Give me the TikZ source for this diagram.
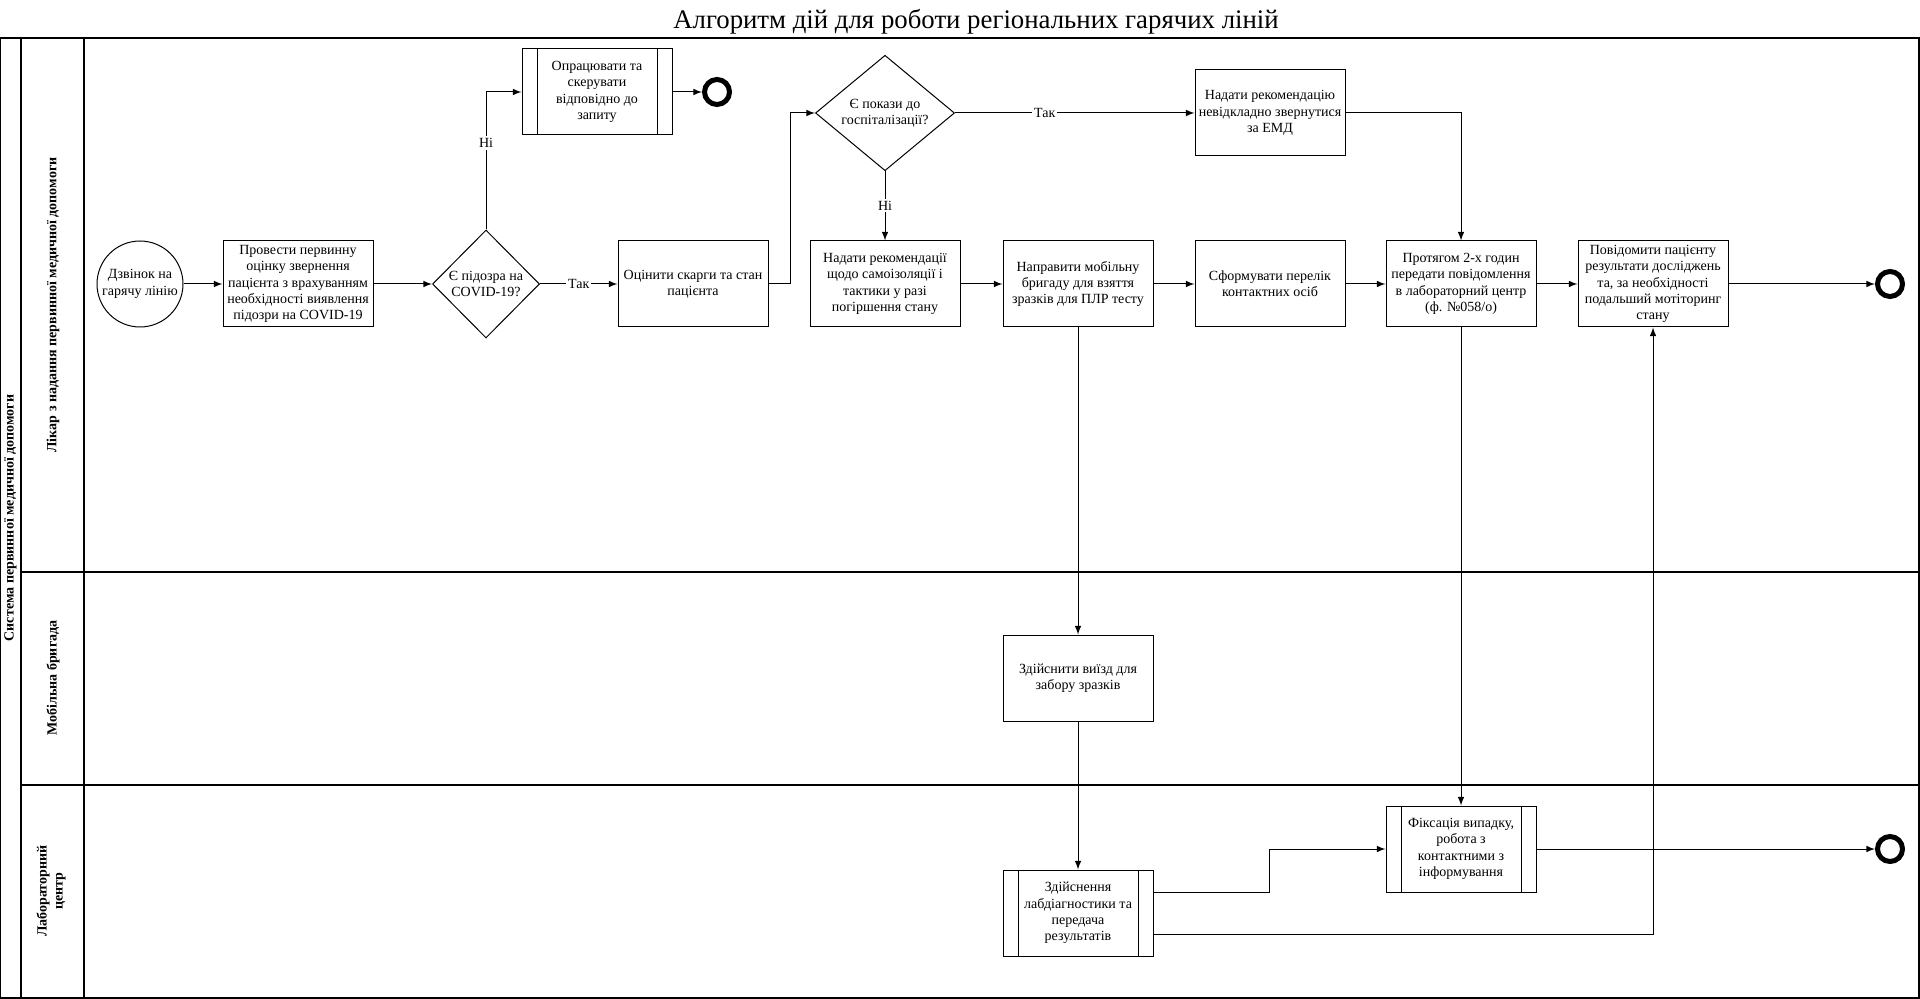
\documentclass[tikz,border=0pt]{standalone}
\usepackage{fontspec}
\setmainfont{Liberation Serif}
\usetikzlibrary{shapes.geometric}

\begin{document}
\begin{tikzpicture}[x=0.5pt,y=-0.5pt,line width=0.5pt,
    every node/.style={font=\fontsize{7}{8.2}\selectfont},
    box/.style={draw,minimum width=75pt,minimum height=43pt,align=center,inner sep=1pt},
    subbox/.style={box,path picture={
        \draw ([xshift=7.5pt]path picture bounding box.north west) -- ([xshift=7.5pt]path picture bounding box.south west);
        \draw ([xshift=-7.5pt]path picture bounding box.north east) -- ([xshift=-7.5pt]path picture bounding box.south east);}},
    choice/.style={draw,diamond,align=center,inner sep=0pt},
    finish/.style={circle,draw,line width=2.5pt,minimum size=12.5pt,inner sep=0pt},
    answer/.style={fill=white,inner sep=1pt},
    lanetext/.style={rotate=90,align=center,font=\fontsize{7}{8}\selectfont\bfseries}]
    \useasboundingbox (0,0) rectangle (1920,999);

    \node (title) at (976,22) [font=\fontsize{13.4}{15}\selectfont] {Алгоритм дій для роботи регіональних гарячих ліній};

    % lanes
    \draw[line width=0.7pt] (0,38) rectangle (1919,998);
    \draw[line width=0.7pt] (21,38) -- (21,998);
    \draw[line width=0.7pt] (84,38) -- (84,998);
    \draw[line width=0.7pt] (21,572) -- (1919,572);
    \draw[line width=0.7pt] (21,785) -- (1919,785);
    \node (pool) at (10.5,518) [lanetext] {Система первинної медичної допомоги};
    \node (lane1) at (53,305) [lanetext] {Лікар з надання первинної медичної допомоги};
    \node (lane2) at (53,678) [lanetext] {Мобільна бригада};
    \node (lane3) at (51,891) [lanetext] {Лабораторний\\центр};

    % first lane
    \node (start) at (140,284) [circle,draw,minimum size=43pt,inner sep=0pt,align=center] {Дзвінок на\\гарячу лінію};
    \node (a1) at (298,284) [box] {Провести первинну\\оцінку звернення\\пацієнта з врахуванням\\необхідності виявлення\\підозри на COVID-19};
    \node (q1) at (486,284) [choice,minimum width=53.5pt,minimum height=54pt] {Є підозра на\\COVID-19?};
    \node (a0) at (597,92) [subbox] {Опрацювати та\\скерувати\\відповідно до\\запиту};
    \node (end1) at (717,92) [finish] {};
    \node (a2) at (693,284) [box] {Оцінити скарги та стан\\пацієнта};
    \node (q2) at (885,113) [choice,minimum width=69.5pt,minimum height=53.5pt] {Є покази до\\госпіталізації?};
    \node (a3) at (1270,113) [box] {Надати рекомендацію\\невідкладно звернутися\\за ЕМД};
    \node (a4) at (885,284) [box] {Надати рекомендації\\щодо самоізоляції і\\тактики у разі\\погіршення стану};
    \node (a5) at (1078,284) [box] {Направити мобільну\\бригаду для взяття\\зразків для ПЛР тесту};
    \node (a6) at (1270,284) [box] {Сформувати перелік\\контактних осіб};
    \node (a7) at (1461,284) [box] {Протягом 2-х годин\\передати повідомлення\\в лабораторний центр\\(ф. №058/о)};
    \node (a8) at (1653,284) [box] {Повідомити пацієнту\\результати досліджень\\та, за необхідності\\подальший мотіторинг\\стану};
    \node (end2) at (1890,284) [finish] {};

    % second and third lane
    \node (b1) at (1078,678) [box] {Здійснити виїзд для\\забору зразків};
    \node (c1) at (1078,913) [subbox] {Здійснення\\лабдіагностики та\\передача\\результатів};
    \node (c2) at (1461,849) [subbox] {Фіксація випадку,\\робота з\\контактними з\\інформування};
    \node (end3) at (1890,849) [finish] {};

    \coordinate (k1) at (486,92);
    \coordinate (k2) at (790,284);
    \coordinate (k3) at (1269,892);

    \draw[-latex] (start) -- (a1);
    \draw[-latex] (a1) -- (q1);
    \draw[-latex] (q1) -- node[answer] {Так} (a2);
    \draw (q1.north) -- node[answer,pos=0.63] {Ні} (k1);
    \draw[-latex] (k1) -- (a0.west);
    \draw[-latex] (a0) -- (end1);
    \draw[-latex] (a2.east) -- (k2) |- (q2.west);
    \draw[-latex] (q2.east) -- node[answer,pos=0.375] {Так} (a3.west);
    \draw[-latex] (q2.south) -- node[answer] {Ні} (a4.north);
    \draw[-latex] (a3.east) -| (a7.north);
    \draw[-latex] (a4) -- (a5);
    \draw[-latex] (a5) -- (a6);
    \draw[-latex] (a6) -- (a7);
    \draw[-latex] (a7) -- (a8);
    \draw[-latex] (a8) -- (end2);
    \draw[-latex] (a5.south) -- (b1.north);
    \draw[-latex] (b1.south) -- (c1.north);
    \draw[-latex] ([yshift=10.5pt]c1.east) -- (k3) |- (c2.west);
    \draw[-latex] ([yshift=-10.5pt]c1.east) -| (a8.south);
    \draw[-latex] (a7.south) -- (c2.north);
    \draw[-latex] (c2) -- (end3);
\end{tikzpicture}
\end{document}
